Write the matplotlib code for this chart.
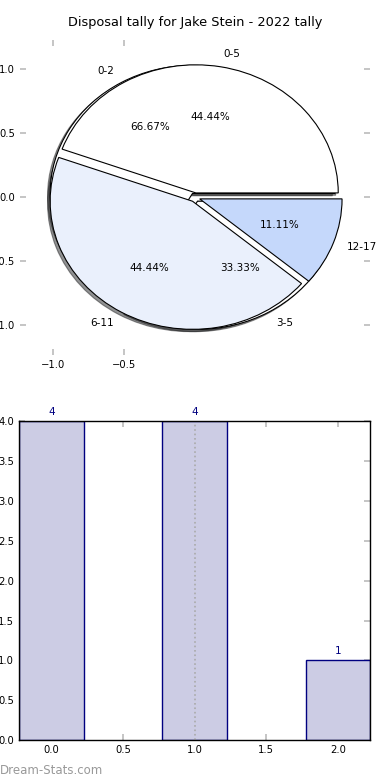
import matplotlib
matplotlib.use("Agg")
import matplotlib.pyplot as plt

title = "Disposal tally for Jake Stein - 2022 tally"
outer_labels = ["0-5", "6-11", "12-17"]
outer_values = [4, 4, 1]
inner_labels = ["0-2", "3-5"]
inner_values = [2, 1]
bar_x = [0, 1, 2]
bar_values = [4, 4, 1]
mean_line = 1.0

plt.rcParams['font.family'] = ['DejaVu Sans']

fig = plt.figure(figsize=(3.9, 7.8), dpi=100)
fig.patch.set_facecolor('white')

ax1 = fig.add_axes([0.051, 0.545, 0.898, 0.404])
ax2 = fig.add_axes([0.049, 0.051, 0.900, 0.409])

tick_kw = dict(direction='in', length=4, width=1.2, color='#bbbbbb',
               labelsize=7.2, labelcolor='black', top=True, right=True)

shadow_kw = {'ox': -0.013, 'oy': -0.013, 'shade': 0.85}

# pie: inner (drawn first), outer on top
ax1.pie(inner_values, labels=inner_labels, colors=['white', 'white'],
        explode=[0.035, 0.035], autopct='%1.2f%%', shadow=shadow_kw,
        startangle=0, counterclock=True, frame=True,
        wedgeprops=dict(edgecolor='black', linewidth=0.8),
        textprops=dict(fontsize=7.5))
ax1.pie(outer_values, labels=outer_labels,
        colors=['white', '#eaf0fc', '#c5d8fb'],
        explode=[0.035, 0.035, 0.035], autopct='%1.2f%%', shadow=shadow_kw,
        startangle=0, counterclock=True, frame=True,
        wedgeprops=dict(edgecolor='black', linewidth=0.8),
        textprops=dict(fontsize=7.5))
ax1.set_aspect('auto')
ax1.set_xlim(-1.23, 1.23)
ax1.set_ylim(-1.23, 1.23)
ax1.set_xticks([-1.0, -0.5])
ax1.set_yticks([-1.0, -0.5, 0.0, 0.5, 1.0])
ax1.tick_params(**tick_kw)
for s in ax1.spines.values():
    s.set_visible(False)
ax1.set_title(title, fontsize=9.3, pad=10)

# bars
ax2.bar(bar_x, bar_values, width=0.45, color='#ccccE4', edgecolor='#000080',
        linewidth=1.0, zorder=2)
for x, v in zip(bar_x, bar_values):
    ax2.text(x, v + 0.05, str(v), ha='center', va='bottom', color='#000080',
             fontsize=7.5)
ax2.axvline(mean_line, color='#aaaaaa', linestyle=':', linewidth=1.2, zorder=3)
ax2.set_xlim(-0.225, 2.225)
ax2.set_ylim(0, 4)
ax2.set_xticks([0.0, 0.5, 1.0, 1.5, 2.0])
ax2.set_yticks([0.0, 0.5, 1.0, 1.5, 2.0, 2.5, 3.0, 3.5, 4.0])
ax2.yaxis.set_major_formatter(matplotlib.ticker.FormatStrFormatter('%.1f'))
ax2.xaxis.set_major_formatter(matplotlib.ticker.FormatStrFormatter('%.1f'))
ax2.tick_params(**tick_kw)
for s in ax2.spines.values():
    s.set_linewidth(1.0)
    s.set_color('black')
    s.set_zorder(4)

fig.text(0.0, 0.004, "Dream-Stats.com", color='#999999', fontsize=8.5,
         ha='left', va='bottom')

fig.savefig("out.png", dpi=100, facecolor='white')
